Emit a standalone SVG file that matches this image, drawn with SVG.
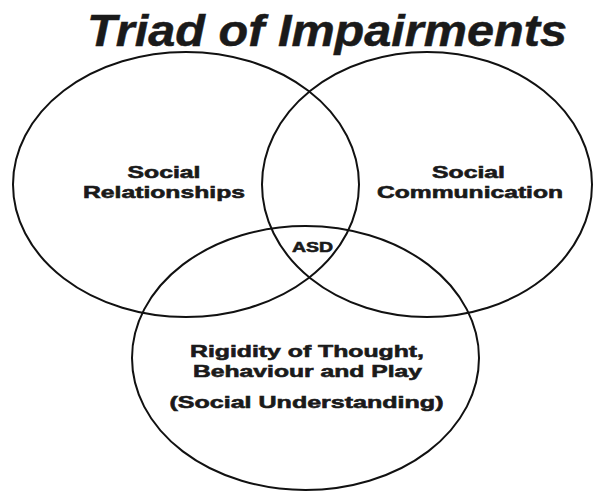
<svg xmlns="http://www.w3.org/2000/svg" width="600" height="491" viewBox="0 0 600 491">
<style>
.c{fill:none;stroke:#111;stroke-width:2}
.t{font-family:"Liberation Sans",Arial,sans-serif;font-weight:bold;fill:#1a1a1a;text-anchor:middle}
.lbl{font-size:17px;stroke:#1a1a1a;stroke-width:0.6}
.title{font-size:44px;font-style:italic;stroke:#1a1a1a;stroke-width:0.5}
</style>
<rect width="600" height="491" fill="#fff"/>
<text class="t title" x="327" y="46" textLength="480" lengthAdjust="spacingAndGlyphs">Triad of Impairments</text>
<g id="social-relationships">
<ellipse class="c" cx="186" cy="184.5" rx="173" ry="132.5"/>
<text class="t lbl" x="164" y="178" textLength="73" lengthAdjust="spacingAndGlyphs">Social</text>
<text class="t lbl" x="164" y="198" textLength="162" lengthAdjust="spacingAndGlyphs">Relationships</text>
</g>
<g id="social-communication">
<ellipse class="c" cx="427" cy="184.5" rx="165" ry="132.5"/>
<text class="t lbl" x="468.5" y="178" textLength="73" lengthAdjust="spacingAndGlyphs">Social</text>
<text class="t lbl" x="470" y="198" textLength="186" lengthAdjust="spacingAndGlyphs">Communication</text>
</g>
<g id="rigidity">
<ellipse class="c" cx="305.5" cy="358" rx="173.5" ry="132"/>
<text class="t lbl" x="307" y="357" textLength="234" lengthAdjust="spacingAndGlyphs">Rigidity of Thought,</text>
<text class="t lbl" x="307.5" y="377" textLength="229" lengthAdjust="spacingAndGlyphs">Behaviour and Play</text>
<text class="t lbl" x="306.5" y="408" textLength="274" lengthAdjust="spacingAndGlyphs">(Social Understanding)</text>
</g>
<g id="asd">
<text class="t lbl" style="font-size:15px" x="312.5" y="252" textLength="41" lengthAdjust="spacingAndGlyphs">ASD</text>
</g>
<g id="connectors"></g>
</svg>
